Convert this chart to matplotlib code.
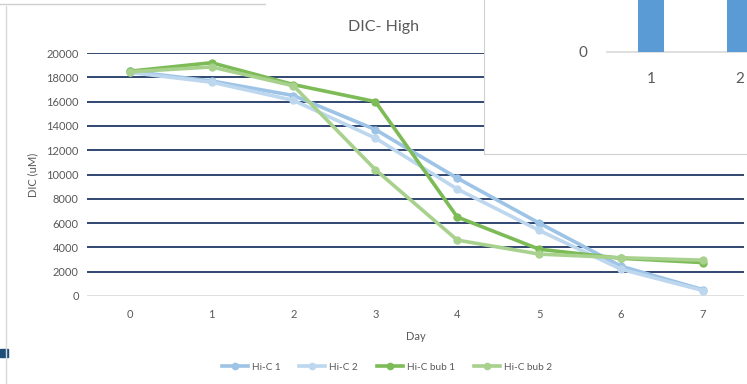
import matplotlib.pyplot as plt
from matplotlib.patches import Rectangle
from matplotlib.lines import Line2D

plt.rcParams['font.family'] = ['Lato', 'DejaVu Sans']

days = [0, 1, 2, 3, 4, 5, 6, 7]
hic1 = [18500, 17700, 16500, 13700, 9700, 6000, 2450, 520]
hic2 = [18400, 17600, 16100, 13000, 8800, 5400, 2200, 450]
bub1 = [18500, 19200, 17400, 16000, 6500, 3850, 3100, 2750]
bub2 = [18450, 18850, 17300, 10400, 4600, 3450, 3150, 2950]
series = ["Hi-C 1", "Hi-C 2", "Hi-C bub 1", "Hi-C bub 2"]
colors = ["#9DC3E6", "#BDD7EE", "#7DBB57", "#A9D18E"]
yticks = [0, 2000, 4000, 6000, 8000, 10000, 12000, 14000, 16000, 18000, 20000]

# overlapping chart in the corner (only its bottom is visible)
inset_cats = [1, 2]
inset_vals = [200, 200]

W, H = 747, 384
fig = plt.figure(figsize=(W / 100, H / 100), dpi=100)

def fx(x):
    return x / W

def fy(y):
    return 1 - y / H

ax = fig.add_axes([fx(87), fy(296), fx(744) - fx(87), fy(53) - fy(296)])
for i, (vals, c) in enumerate(zip([hic1, hic2, bub1, bub2], colors)):
    ax.plot(days, vals, color=c, lw=2.6, marker='o', ms=5, label=series[i], zorder=3)

ax.set_xlim(-0.52, 7.5)
ax.set_ylim(0, 20000)
ax.set_yticks(yticks)
ax.set_xticks(days)
for t in yticks[1:]:
    ax.axhline(t, color="#203864", lw=1.3, zorder=1)
ax.axhline(0, color="#D9D9D9", lw=1.2, zorder=1)
for s in ax.spines.values():
    s.set_visible(False)
ax.tick_params(length=0, labelsize=8, colors="#595959", pad=6)
ax.tick_params(axis='x', pad=9)
ax.set_xlabel("Day", fontsize=8, color="#595959", labelpad=8)
ax.set_ylabel("DIC (uM)", fontsize=8, color="#595959", labelpad=6)
fig.text(fx(383), fy(27), "DIC- High", fontsize=11.5, color="#595959", ha='center', va='center')

ax.legend(loc='center', bbox_to_anchor=(fx(387), fy(367)), bbox_transform=fig.transFigure,
          ncol=4, frameon=False, fontsize=7.2, labelcolor="#595959",
          handlelength=2.6, columnspacing=1.9, handletextpad=0.4, markerscale=0.9)

# chart frame bits
fig.add_artist(Line2D([fx(6), fx(6)], [fy(6), 0], color="#D9D9D9", lw=1))
fig.add_artist(Line2D([0, fx(265)], [fy(4), fy(4)], color="#D0D0D0", lw=1))
fig.add_artist(Rectangle((0, fy(357)), fx(8), fy(349) - fy(357), color="#1F4E79"))

# overlapping chart panel: category c sits at pixel 651 + (c - 1) * 89
ov = fig.add_axes([fx(484), fy(154), 1 - fx(484), fy(0) - fy(154)])
ov.set_facecolor("white")
ov.set_zorder(5)
ov.set_xlim(1 + (484 - 651) / 89, 1 + (747 - 651) / 89)
ov.set_ylim(-102, 52)
ov.bar(inset_cats, inset_vals, width=0.30, color="#5B9BD5", zorder=2)
ov.plot([1 + (607 - 651) / 89, 3], [0, 0], color="#D9D9D9", lw=1.2, zorder=1)
ov.text(1 + (583 - 651) / 89, -1, "0", ha='center', va='center', fontsize=11, color="#595959")
for c in inset_cats:
    ov.text(c, -27, str(c), ha='center', va='center', fontsize=11, color="#595959")
ov.set_xticks([])
ov.set_yticks([])
for k in ["top", "right"]:
    ov.spines[k].set_visible(False)
for k in ["left", "bottom"]:
    ov.spines[k].set_color("#D0D0D0")

fig.savefig("out.png", dpi=100)
